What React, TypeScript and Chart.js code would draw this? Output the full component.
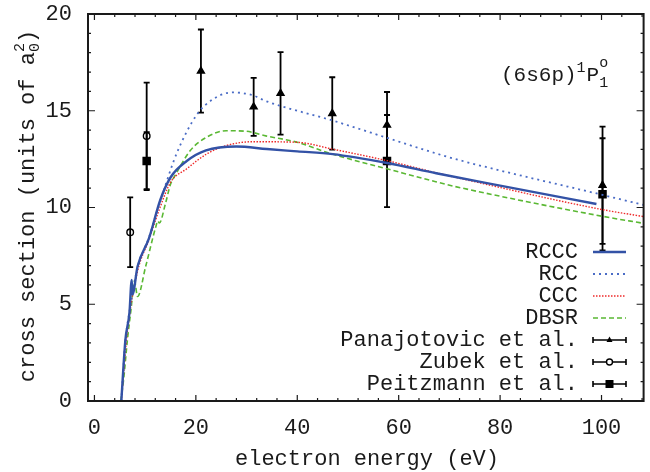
import React, { useEffect, useRef } from 'react';
import { Chart, registerables } from 'chart.js';

Chart.register(...registerables);

const FONT = '"Liberation Mono", "Courier New", monospace';

// ---- axis ticks ----
const xMajorTicks = [0, 20, 40, 60, 80, 100];
const xMinorTicks = [0, 4, 8, 12, 16, 20, 24, 28, 32, 36, 40, 44, 48, 52, 56, 60, 64, 68, 72, 76, 80, 84, 88, 92, 96, 100, 104, 108];
const yMajorTicks = [0, 5, 10, 15, 20];
const yMinorTicks = [0, 1, 2, 3, 4, 5, 6, 7, 8, 9, 10, 11, 12, 13, 14, 15, 16, 17, 18, 19, 20];

// ---- theory curves (energy eV, cross section a0^2) ----
const rcccX = [5.3, 6.1, 6.9, 7.35, 7.5, 8.5, 10.75, 13, 15, 18.2, 22, 28, 34, 40, 47, 57.7, 67.4, 80, 99];
const rcccY = [0, 3.15, 4.55, 6.25, 5.5, 6.95, 8.4, 10.4, 11.55, 12.4, 12.95, 13.15, 13.02, 12.9, 12.76, 12.3, 11.77, 11.13, 10.18];

const rccX = [5.3, 6.1, 6.9, 8.5, 10.75, 12.8, 13.8, 16.3, 20.2, 23.4, 27.3, 31.2, 33.8, 46.9, 57.7, 67.3, 71.2, 100.2, 108.3];
const rccY = [0, 3.1, 4.6, 6.9, 8.45, 10.2, 11.0, 12.85, 14.8, 15.6, 15.95, 15.8, 15.5, 14.5, 13.6, 12.8, 12.5, 10.65, 10.13];

const cccX = [5.3, 6.5, 8.5, 10.7, 12.8, 15, 18.2, 22.1, 26, 31.2, 40, 46.9, 57.7, 67.3, 71.2, 99.8, 108.3];
const cccY = [0, 3.6, 6.7, 8.3, 9.9, 11.3, 12.0, 12.76, 13.2, 13.4, 13.37, 13.02, 12.42, 11.8, 11.56, 9.91, 9.53];

const dbsrX = [5.2, 5.75, 6.5, 7.2, 7.9, 8.5, 10.1, 12.1, 12.5, 12.8, 14, 15, 16, 18.9, 22.1, 26, 29.9, 33.8, 40, 46.9, 57.7, 67.3, 71.2, 100.5, 108.3];
const dbsrY = [0, 1.1, 3.15, 4.7, 6.2, 5.4, 6.95, 9.0, 9.3, 9.2, 10.2, 11.2, 11.7, 12.94, 13.63, 13.97, 13.94, 13.7, 13.37, 12.76, 12.0, 11.33, 11.08, 9.53, 9.18];

// ---- experiments ----
const panX = [21, 31.4, 36.7, 46.9, 57.7, 100.2];
const panY = [17.05, 15.2, 15.9, 14.86, 14.26, 11.15];
const panErr = [2.15, 1.5, 2.13, 1.87, 1.71, 3.03];

const zubX = [7.05, 10.3];
const zubY = [8.72, 13.7];
const zubErr = [1.8, 2.75];

const peiX = [10.3, 57.7, 100.2];
const peiY = [12.4, 12.4, 10.68];
const peiErr = [1.5, 2.38, 2.9];

const toXY = (xs: number[], ys: number[]) => xs.map((x, i) => ({ x, y: ys[i] }));

const AXIS_COLOR = '#1a1a1a';
const TXT = 22;

const decorPlugin = {
  id: 'decor',
  beforeDatasetsDraw(chart: any) {
    const { ctx, scales } = chart;
    const x = scales.x, y = scales.y;
    ctx.save();
    ctx.strokeStyle = '#000';
    ctx.lineWidth = 1.8;
    chart.data.datasets.forEach((ds: any) => {
      if (!ds.errors) return;
      ds.data.forEach((p: any, i: number) => {
        const px = x.getPixelForValue(p.x);
        const top = y.getPixelForValue(p.y + ds.errors[i]);
        const bot = y.getPixelForValue(p.y - ds.errors[i]);
        ctx.beginPath();
        ctx.moveTo(px, top); ctx.lineTo(px, bot);
        ctx.moveTo(px - 3, top); ctx.lineTo(px + 3, top);
        ctx.moveTo(px - 3, bot); ctx.lineTo(px + 3, bot);
        ctx.stroke();
      });
    });
    ctx.restore();
  },
  afterDraw(chart: any) {
    const { ctx, chartArea: a, scales } = chart;
    const x = scales.x, y = scales.y;
    ctx.save();
    // frame
    ctx.strokeStyle = AXIS_COLOR;
    ctx.lineWidth = 2;
    ctx.strokeRect(a.left, a.top, a.right - a.left, a.bottom - a.top);
    // ticks
    ctx.lineWidth = 1.2;
    ctx.beginPath();
    xMinorTicks.forEach((v) => {
      const px = x.getPixelForValue(v);
      const len = xMajorTicks.includes(v) ? 6 : 3;
      ctx.moveTo(px, a.bottom); ctx.lineTo(px, a.bottom - len);
      ctx.moveTo(px, a.top); ctx.lineTo(px, a.top + len);
    });
    yMinorTicks.forEach((v) => {
      const py = y.getPixelForValue(v);
      const len = yMajorTicks.includes(v) ? 7 : 3;
      ctx.moveTo(a.left, py); ctx.lineTo(a.left + len, py);
      ctx.moveTo(a.right, py); ctx.lineTo(a.right - len, py);
    });
    ctx.stroke();

    ctx.fillStyle = '#1a1a1a';
    // x title
    ctx.font = `${TXT}px ${FONT}`;
    ctx.textAlign = 'center';
    ctx.textBaseline = 'alphabetic';
    ctx.fillText('electron energy (eV)', 367, 465);

    // y title, rotated with a_0^2
    ctx.save();
    ctx.translate(34, 206);
    ctx.rotate(-Math.PI / 2);
    const main = 'cross section (units of a';
    ctx.font = `${TXT}px ${FONT}`;
    const wMain = ctx.measureText(main).width;
    ctx.font = `15px ${FONT}`;
    const wSub = ctx.measureText('0').width;
    ctx.font = `${TXT}px ${FONT}`;
    const wClose = ctx.measureText(')').width;
    const total = wMain + wSub + wClose;
    let cx = -total / 2;
    ctx.textAlign = 'left';
    ctx.fillText(main, cx, 0);
    cx += wMain;
    ctx.font = `15px ${FONT}`;
    ctx.fillText('0', cx, 5);
    ctx.fillText('2', cx, -10);
    cx += wSub;
    ctx.font = `${TXT}px ${FONT}`;
    ctx.fillText(')', cx, 0);
    ctx.restore();

    // state label (6s6p) 1P°1
    ctx.textAlign = 'left';
    ctx.font = `21px ${FONT}`;
    let lx = 501;
    ctx.fillText('(6s6p)', lx, 81);
    lx += ctx.measureText('(6s6p)').width;
    ctx.font = `15px ${FONT}`;
    ctx.fillText('1', lx, 72);
    lx += ctx.measureText('1').width + 1;
    ctx.font = `21px ${FONT}`;
    ctx.fillText('P', lx, 81);
    lx += ctx.measureText('P').width;
    ctx.font = `15px ${FONT}`;
    ctx.fillText('o', lx, 67);
    ctx.fillText('1', lx, 87);

    // legend
    const rows = chart.data.datasets;
    const textRight = 578, s0 = 593, s1 = 626, rowTop = 252, rowStep = 22;
    rows.forEach((ds: any, i: number) => {
      const ry = rowTop + i * rowStep;
      ctx.font = `${TXT}px ${FONT}`;
      ctx.textAlign = 'right';
      ctx.textBaseline = 'middle';
      ctx.fillStyle = '#1a1a1a';
      ctx.fillText(ds.label, textRight, ry);
      if (!ds.errors) {
        ctx.strokeStyle = ds.borderColor;
        ctx.lineWidth = ds.borderWidth;
        ctx.setLineDash(ds.borderDash || []);
        ctx.beginPath();
        ctx.moveTo(s0, ry); ctx.lineTo(s1, ry);
        ctx.stroke();
        ctx.setLineDash([]);
      } else {
        ctx.strokeStyle = '#000';
        ctx.lineWidth = 1.6;
        ctx.beginPath();
        ctx.moveTo(s0, ry); ctx.lineTo(s1, ry);
        ctx.moveTo(s0, ry - 3); ctx.lineTo(s0, ry + 3);
        ctx.moveTo(s1, ry - 3); ctx.lineTo(s1, ry + 3);
        ctx.stroke();
        const mx = (s0 + s1) / 2;
        ctx.fillStyle = '#000';
        if (ds.pointStyle === 'triangle') {
          ctx.beginPath();
          ctx.moveTo(mx, ry - 3.5); ctx.lineTo(mx + 3, ry + 2); ctx.lineTo(mx - 3, ry + 2);
          ctx.closePath(); ctx.fill();
        } else if (ds.pointStyle === 'circle') {
          ctx.fillStyle = '#fff';
          ctx.beginPath(); ctx.arc(mx, ry, 3, 0, Math.PI * 2); ctx.fill();
          ctx.lineWidth = 1.4; ctx.stroke();
        } else {
          ctx.fillRect(mx - 4, ry - 4, 8, 8);
        }
      }
    });
    ctx.restore();
  },
};

export default function App() {
  const ref = useRef<HTMLCanvasElement | null>(null);

  useEffect(() => {
    document.body.style.margin = '0';
    const canvas = ref.current;
    if (!canvas) return;
    const lineDs = (label: string, xs: number[], ys: number[], color: string, width: number, dash: number[]) => ({
      label,
      data: toXY(xs, ys),
      borderColor: color,
      backgroundColor: color,
      borderWidth: width,
      borderDash: dash,
      pointRadius: 0,
      showLine: true,
      fill: false,
      cubicInterpolationMode: 'monotone',
    });
    const expDs = (label: string, xs: number[], ys: number[], errs: number[], style: string, radius: number, fillCol: string) => ({
      label,
      data: toXY(xs, ys),
      errors: errs,
      showLine: false,
      pointStyle: style,
      pointRadius: radius,
      pointBackgroundColor: fillCol,
      pointBorderColor: '#000',
      pointBorderWidth: 1.4,
      borderColor: '#000',
      backgroundColor: fillCol,
    });
    const zeroPad = (s: any) => { s.paddingTop = 0; s.paddingBottom = 0; s.paddingLeft = 0; s.paddingRight = 0; };
    const chart = new Chart(canvas, {
      type: 'line',
      data: {
        datasets: [
          lineDs('RCCC', rcccX, rcccY, '#3352a6', 2.4, []),
          lineDs('RCC', rccX, rccY, '#4a6cc6', 1.8, [2, 4]),
          lineDs('CCC', cccX, cccY, '#ee2a2a', 1.4, [1.5, 1.5]),
          lineDs('DBSR', dbsrX, dbsrY, '#5ab833', 1.6, [5, 3]),
          expDs('Panajotovic et al.', panX, panY, panErr, 'triangle', 4, '#000'),
          expDs('Zubek et al.', zubX, zubY, zubErr, 'circle', 3.3, 'rgba(0,0,0,0)'),
          expDs('Peitzmann et al.', peiX, peiY, peiErr, 'rect', 5, '#000'),
        ] as any,
      },
      options: {
        animation: false,
        responsive: false,
        maintainAspectRatio: false,
        layout: { padding: { top: 14, right: 0, left: 0, bottom: 0 } },
        plugins: { legend: { display: false }, tooltip: { enabled: false } },
        scales: {
          x: {
            type: 'linear',
            min: -1.27,
            max: 108.3,
            afterFit: (s: any) => { s.height = 71; zeroPad(s); },
            afterBuildTicks: (s: any) => { s.ticks = xMajorTicks.map((v) => ({ value: v })); },
            ticks: {
              font: { family: FONT, size: TXT },
              color: '#1a1a1a',
              padding: 14,
              maxRotation: 0,
              autoSkip: false,
            },
            grid: { display: false, drawTicks: false },
            border: { display: false },
          },
          y: {
            type: 'linear',
            min: 0,
            max: 20,
            afterFit: (s: any) => { s.width = 88; zeroPad(s); },
            afterBuildTicks: (s: any) => { s.ticks = yMajorTicks.map((v) => ({ value: v })); },
            ticks: {
              font: { family: FONT, size: TXT },
              color: '#1a1a1a',
              padding: 16,
            },
            grid: { display: false, drawTicks: false },
            border: { display: false },
          },
        },
      } as any,
      plugins: [decorPlugin],
    });
    return () => chart.destroy();
  }, []);

  return (
    <div style={{ width: 650, height: 472, background: '#fff' }}>
      <canvas ref={ref} width={650} height={472} style={{ display: 'block', width: 650, height: 472 }} />
    </div>
  );
}
